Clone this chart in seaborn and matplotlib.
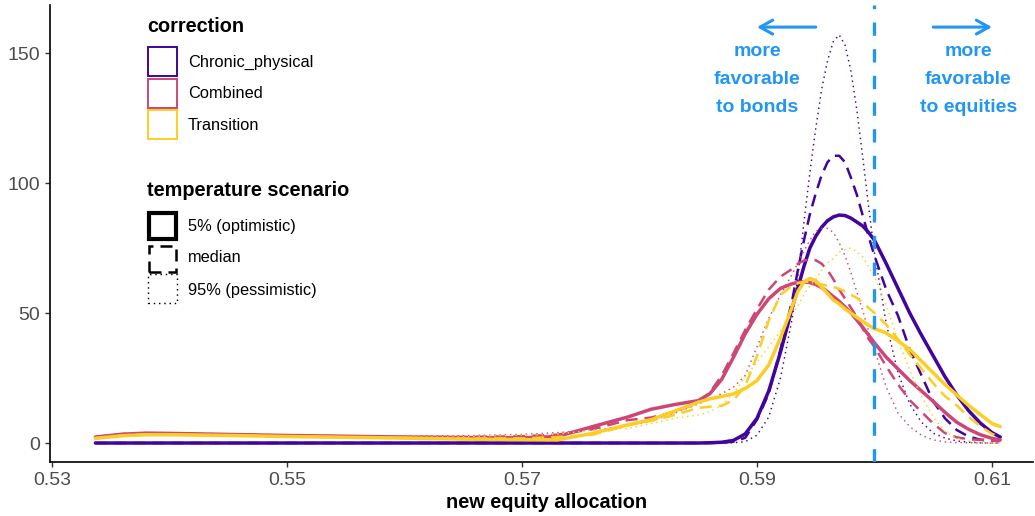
import matplotlib
matplotlib.use("Agg")
import matplotlib.pyplot as plt
from matplotlib.patches import Rectangle
import pandas as pd
import seaborn as sns

# equity allocation grid on which the densities are evaluated
allocation = [0.5337, 0.536, 0.538, 0.540, 0.545, 0.550, 0.555, 0.560, 0.565, 0.570,
              0.573, 0.576, 0.579, 0.581, 0.583, 0.585, 0.586, 0.587, 0.588, 0.589,
              0.590, 0.591, 0.592, 0.593, 0.5935, 0.594, 0.5945, 0.595, 0.5955, 0.596,
              0.5965, 0.597, 0.5975, 0.598, 0.5985, 0.599, 0.5995, 0.600, 0.601, 0.602,
              0.603, 0.604, 0.605, 0.606, 0.607, 0.608, 0.609, 0.610, 0.6107]

corrections = ["Chronic_physical", "Combined", "Transition"]
scenarios = ["5% (optimistic)", "median", "95% (pessimistic)"]

# density of the new equity allocation, per correction and temperature scenario
chronic_opt = [0, 0, 0, 0, 0, 0, 0, 0, 0, 0,
               0, 0, 0, 0, 0, 0, 0.1, 0.3, 1, 3.5,
               9.5, 20, 35, 52, 60, 68, 75, 79.5, 83, 85.5,
               87, 87.7, 87.5, 86.5, 85, 83.5, 81, 78, 69, 59.5,
               50, 41.5, 33.5, 25.5, 18.5, 12.5, 7.7, 4, 2.3]
chronic_med = [0, 0, 0, 0, 0, 0, 0, 0, 0, 0,
               0, 0, 0, 0, 0, 0, 0, 0.1, 0.5, 2,
               9, 19, 36, 55, 67, 78, 88, 96, 103, 108,
               110.5, 110.5, 108, 102, 95.5, 87.5, 79.5, 72, 59, 49,
               36, 26, 16, 9.5, 5, 2.5, 1.3, 0.9, 0.8]
chronic_pes = [0, 0, 0, 0, 0, 0, 0, 0, 0, 0,
               0, 0, 0, 0, 0, 0, 0, 0, 0.1, 0.5,
               3, 10, 25, 48, 65, 85, 104, 121, 136, 147,
               154.5, 157, 153, 143, 128, 110, 91, 73, 46, 27,
               15, 8, 3.8, 1.9, 0.8, 0.3, 0.1, 0, 0]

combined_opt = [2.3, 3.4, 3.8, 3.7, 3.3, 2.9, 2.6, 2.3, 2.1, 2.0,
                2.5, 6.3, 10, 13, 14.8, 16.3, 19, 24.5, 33, 42,
                49.5, 55.5, 59.5, 61.3, 61.8, 62, 61.7, 61, 59.8, 58.2,
                56.3, 54.5, 52.3, 50, 47.3, 44.5, 41.5, 38.5, 33, 28.5,
                24, 20, 16, 11.8, 8, 5.3, 3.2, 1.8, 1.2]
combined_med = [2.3, 3.4, 3.8, 3.7, 3.3, 2.9, 2.6, 2.3, 2.3, 2.6,
                3.2, 5.3, 8.8, 9.8, 12, 15.5, 19.5, 26, 34.5, 43.5,
                51.5, 59, 64, 67, 69, 70.2, 70.5, 70.3, 69, 66.5,
                63, 59, 55.5, 52, 48.5, 44, 40, 37, 29.5, 22.5,
                16.5, 12, 7.5, 3.8, 2.2, 1.4, 1.2, 0.9, 0.8]
combined_pes = [2.3, 3.4, 3.8, 3.7, 3.3, 2.9, 2.6, 2.6, 2.8, 3.3,
                4, 5, 6.5, 8.5, 11.5, 15, 17, 19, 21.5, 26,
                37, 48, 57, 65, 69.5, 74, 78, 81.5, 82.5, 82.6,
                81, 77, 72, 65.5, 58, 51, 43, 36, 21.5, 11.5,
                6.3, 3, 1.2, 0.4, 0.2, 0.1, 0, 0, 0]

transition_opt = [1.8, 2.8, 3.2, 3.2, 2.9, 2.5, 2.2, 1.9, 1.5, 1.3,
                  1.2, 3.7, 7, 9, 12.3, 15.7, 17, 17.9, 18.9, 21,
                  24, 30, 40.5, 52.5, 58.5, 62, 63.3, 62.5, 60, 57.5,
                  55, 53.5, 51.5, 50, 48.3, 46.8, 45.3, 44, 42.3, 39.3,
                  36, 31.5, 27, 22.5, 18.5, 14.5, 11, 7.5, 6.3]
transition_med = [1.8, 2.8, 3.2, 3.2, 2.9, 2.5, 2.2, 1.9, 1.7, 1.8,
                  2.3, 3.2, 6.8, 8.5, 10.8, 13.5, 14, 14.3, 16.5, 22,
                  33.5, 47, 57, 60.5, 61.5, 62, 62, 61.5, 61, 60.5,
                  60, 59.3, 58.3, 57, 55.8, 54, 52, 50, 45.5, 40,
                  34, 28.5, 23, 18, 14.5, 10, 6.5, 3.5, 2.4]
transition_pes = [1.8, 2.8, 3.2, 3.2, 2.9, 2.5, 2.2, 2.2, 2.4, 3,
                  3.4, 5, 5.6, 7.5, 9.5, 10.8, 12, 14.5, 19, 25.5,
                  31, 37, 43, 49.5, 53, 57, 60.5, 62.8, 66.5, 69.3,
                  71, 73.5, 74.5, 75, 73.5, 71.7, 67.8, 64, 53, 39.5,
                  28, 18, 10, 4.5, 1.8, 0.8, 0.3, 0.1, 0]

neutral_allocation = 0.60

palette = dict(zip(corrections, ["#41049D", "#CC4778", "#FCCE25"]))
widths = dict(zip(scenarios, [2.5, 1.8, 1.05]))
dash_specs = dict(zip(scenarios, ["", (4.8, 2.8), (1, 2.6)]))
blue = "#2196F3"

series = {
    ("Chronic_physical", scenarios[0]): chronic_opt,
    ("Chronic_physical", scenarios[1]): chronic_med,
    ("Chronic_physical", scenarios[2]): chronic_pes,
    ("Combined", scenarios[0]): combined_opt,
    ("Combined", scenarios[1]): combined_med,
    ("Combined", scenarios[2]): combined_pes,
    ("Transition", scenarios[0]): transition_opt,
    ("Transition", scenarios[1]): transition_med,
    ("Transition", scenarios[2]): transition_pes,
}
df = pd.concat(
    [pd.DataFrame({"allocation": allocation, "density": vals,
                   "correction": corr, "scenario": scen})
     for (corr, scen), vals in series.items()],
    ignore_index=True,
)

sns.set_theme(style="ticks")
plt.rcParams["font.family"] = ["Liberation Sans", "DejaVu Sans"]

W, H = 1035, 516
fig = plt.figure(figsize=(W / 100, H / 100), dpi=100)
ax = fig.add_axes([49.5 / W, 1 - 462.3 / H, (1033 - 49.5) / W, (462.3 - 5) / H])

sns.lineplot(data=df, x="allocation", y="density",
             hue="correction", hue_order=corrections, palette=palette,
             style="scenario", style_order=scenarios, dashes=dash_specs,
             size="scenario", size_order=scenarios, sizes=widths,
             estimator=None, legend=False, ax=ax)

# neutral allocation marker
ax.axvline(neutral_allocation, color=blue, lw=2.4, linestyle=(0, (4, 4)), zorder=5)

ax.set_xlim(0.52979, 0.61349)
ax.set_ylim(-7.42, 168.5)
ax.set_xticks([0.53, 0.55, 0.57, 0.59, 0.61])
ax.set_xticklabels(["0.53", "0.55", "0.57", "0.59", "0.61"])
ax.set_yticks([0, 50, 100, 150])
ax.tick_params(axis="both", length=3.3, width=1.0, color="#333333",
               labelcolor="#4D4D4D", labelsize=14, pad=3.5)
for side in ["top", "right"]:
    ax.spines[side].set_visible(False)
for side in ["left", "bottom"]:
    ax.spines[side].set_color("black")
    ax.spines[side].set_linewidth(1.2)
ax.set_ylabel("")
ax.set_xlabel("new equity allocation", fontsize=14.3, fontweight="bold", color="black")
ax.xaxis.set_label_coords(0.505, -0.089)
ax.xaxis.label.set_verticalalignment("center")

# direction annotations
arrow_kw = dict(arrowstyle="->,head_length=0.45,head_width=0.25", color=blue,
                lw=2.2, mutation_scale=20, shrinkA=0, shrinkB=0)
ax.annotate("", xy=(0.590, 160), xytext=(0.595, 160), arrowprops=arrow_kw)
ax.annotate("", xy=(0.610, 160), xytext=(0.605, 160), arrowprops=arrow_kw)
ax.text(0.590, 140, "more\nfavorable\nto bonds", ha="center", va="center",
        color=blue, fontsize=14, fontweight="bold", linespacing=1.84)
ax.text(0.608, 140, "more\nfavorable\nto equities", ha="center", va="center",
        color=blue, fontsize=14, fontweight="bold", linespacing=1.84)


# legends drawn as keys in figure pixel space
def fx(x):
    return x / W


def fy(y):
    return 1 - y / H


def key(x0, y0, x1, y1, **kw):
    fig.add_artist(Rectangle((fx(x0), fy(y1)), (x1 - x0) / W, (y1 - y0) / H,
                             transform=fig.transFigure, fill=False, **kw))


fig.text(fx(147), fy(27), "correction", fontsize=14.3, fontweight="bold",
         va="center", ha="left", color="black")
for i, corr in enumerate(corrections):
    top = 47 + 31.7 * i
    key(148, top, 176.5, top + 29, edgecolor=palette[corr], lw=1.4)
    fig.text(fx(188), fy(top + 15), corr, fontsize=11.8, va="center", ha="left",
             color="black")

fig.text(fx(147), fy(191), "temperature scenario", fontsize=14.3, fontweight="bold",
         va="center", ha="left", color="black")
key(148.5, 213, 175.5, 239, edgecolor="black", lw=3.0)
key(148.5, 246, 175.5, 272, edgecolor="black", lw=1.8, linestyle=(0, (4.8, 2.8)))
key(148, 274, 176.5, 303, edgecolor="black", lw=1.05, linestyle=(0, (1, 2.6)))
for label, yc in zip(scenarios, [227, 258, 291]):
    fig.text(fx(188), fy(yc), label, fontsize=11.8, va="center", ha="left", color="black")

fig.savefig("out.png", dpi=100)
